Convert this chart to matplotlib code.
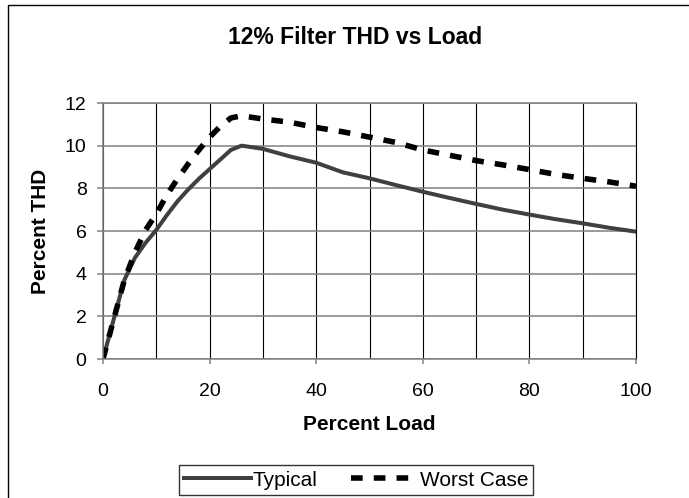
import matplotlib
matplotlib.use("Agg")
import matplotlib.pyplot as plt
from matplotlib.patches import Rectangle
from matplotlib.ticker import MultipleLocator

# ============================================
# DATA
# ============================================

load_typ = [0, 2, 4, 6, 8, 10, 12, 14, 16, 18, 20, 22, 24, 26, 30, 35,
            40, 45, 50, 55, 60, 65, 70, 75, 80, 85, 90, 95, 100]
thd_typ = [0, 1.85, 3.7, 4.75, 5.45, 6.05, 6.75, 7.4, 7.95, 8.45, 8.9,
           9.35, 9.8, 10.0, 9.85, 9.5, 9.2, 8.75, 8.47, 8.15, 7.84, 7.55,
           7.27, 7.0, 6.77, 6.55, 6.36, 6.15, 5.97]

load_worst = [0, 2, 4, 6, 8, 10, 12, 14, 16, 18, 20, 22, 24, 26, 30, 35,
              40, 45, 50, 55, 60, 65, 70, 75, 80, 85, 90, 95, 100]
thd_worst = [0, 1.85, 3.7, 5.0, 6.05, 6.8, 7.7, 8.45, 9.15, 9.8, 10.4,
             10.9, 11.3, 11.4, 11.25, 11.1, 10.85, 10.65, 10.4, 10.15, 9.8,
             9.55, 9.3, 9.1, 8.88, 8.65, 8.47, 8.3, 8.1]

# ============================================
# FIGURE
# ============================================

plt.rcParams['font.family'] = ['Liberation Sans', 'DejaVu Sans']

W, H = 689, 498
fig = plt.figure(figsize=(W / 100, H / 100), dpi=100)
fig.patch.set_facecolor('white')

# outer chart frame (cut at right / bottom edges)
fig.patches.append(Rectangle((8 / W, -0.1), 1.2, 1.1 - 5 / H,
                             transform=fig.transFigure, fill=False,
                             edgecolor='black', linewidth=1.0))

ax = fig.add_axes([103 / W, 1 - 359 / H, 533 / W, 256 / H])

ax.plot(load_typ, thd_typ, color='#404040', linewidth=2.9,
        label='Typical', solid_joinstyle='round')
ax.plot(load_worst, thd_worst, color='black', linewidth=4.0,
        linestyle=(0, (2.1, 2.0)), label='Worst Case')

ax.set_xlim(0, 100)
ax.set_ylim(0, 12)
ax.xaxis.set_major_locator(MultipleLocator(20))
ax.xaxis.set_minor_locator(MultipleLocator(10))
ax.yaxis.set_major_locator(MultipleLocator(2))

ax.grid(True, axis='y', which='major', color='#808080', linewidth=1.1)
ax.grid(True, axis='x', which='both', color='black', linewidth=0.8)
ax.set_axisbelow(True)

for side in ['left', 'bottom', 'top']:
    ax.spines[side].set_color('#808080')
    ax.spines[side].set_linewidth(1.1)
ax.spines['right'].set_color('black')
ax.spines['right'].set_linewidth(0.8)

ax.tick_params(axis='y', which='major', length=4.3, width=1.1,
               color='#808080', pad=7.5, labelsize=14)
ax.tick_params(axis='x', which='major', length=3.6, width=1.1,
               color='#808080', pad=13.5, labelsize=14)
ax.tick_params(axis='x', which='minor', length=0)

ax.set_xlabel('Percent Load', fontsize=15, fontweight='bold', va='center')
ax.xaxis.set_label_coords((369 - 103) / 533, (359 - 425) / 256)
ax.set_ylabel('Percent THD', fontsize=15, fontweight='bold', va='center')
ax.yaxis.set_label_coords((40 - 103) / 533, 0.5)

fig.text(355 / W, 1 - 37 / H, '12% Filter THD vs Load', fontsize=16.5,
         fontweight='bold', ha='center', va='center')

leg = fig.legend(loc='center', bbox_to_anchor=(356 / W, 1 - 480 / H),
                 ncol=2, fontsize=15, frameon=True, fancybox=False,
                 handlelength=3.2, handletextpad=0.1, columnspacing=1.6,
                 borderpad=0.25, borderaxespad=0)
leg.get_frame().set_edgecolor('black')
leg.get_frame().set_linewidth(1.0)

plt.savefig('out.png', dpi=100)
